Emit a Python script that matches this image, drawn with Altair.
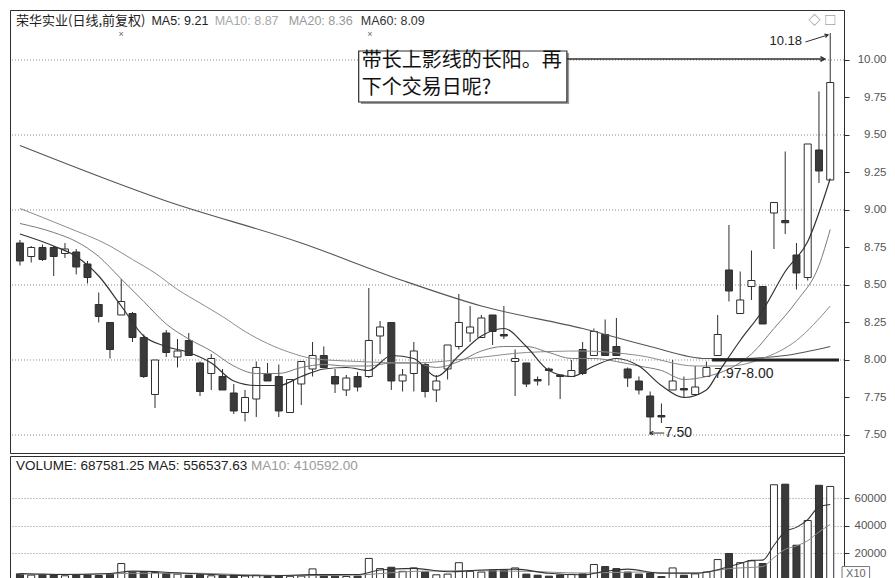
import altair as alt
import pandas as pd

# ---------------- data ----------------
opens = [8.78, 8.69, 8.75, 8.75, 8.71, 8.72, 8.64, 8.37, 8.25, 8.30,
         8.31, 8.15, 7.77, 8.18, 8.02, 8.13, 7.98, 7.91, 7.89, 7.78,
         7.65, 7.74, 7.91, 7.89, 7.65, 7.84, 7.94, 8.03, 7.89, 7.80,
         7.89, 7.89, 8.16, 8.25, 7.86, 7.91, 7.97, 7.80, 7.94, 8.09,
         8.18, 8.15, 8.30, 8.17, 7.99, 7.98, 7.87, 7.94, 7.90, 7.89,
         8.07, 8.03, 8.17, 8.09, 7.94, 7.86, 7.76, 7.63, 7.80, 7.81,
         7.77, 7.89, 8.03, 8.60, 8.31, 8.49, 8.49, 8.98, 8.93, 8.70,
         8.55, 9.40, 9.20]
highs = [8.80, 8.76, 8.77, 8.76, 8.78, 8.74, 8.66, 8.45, 8.25, 8.54,
         8.32, 8.17, 8.00, 8.20, 8.14, 8.18, 7.99, 8.04, 7.94, 7.84,
         7.80, 7.99, 7.98, 7.97, 7.87, 7.99, 8.12, 8.09, 7.94, 7.90,
         7.92, 8.48, 8.26, 8.25, 7.94, 8.12, 7.98, 7.90, 8.10, 8.44,
         8.36, 8.30, 8.30, 8.36, 8.07, 7.98, 7.89, 7.95, 7.90, 8.00,
         8.12, 8.21, 8.27, 8.28, 7.95, 7.89, 7.79, 7.71, 8.00, 7.89,
         7.96, 7.99, 8.30, 8.90, 8.59, 8.73, 8.49, 9.05, 9.39, 8.78,
         9.44, 9.79, 10.18]
lows = [8.63, 8.65, 8.66, 8.56, 8.68, 8.57, 8.51, 8.25, 8.01, 8.30,
        8.12, 7.88, 7.68, 8.02, 7.95, 8.03, 7.76, 7.80, 7.80, 7.64,
        7.59, 7.62, 7.86, 7.62, 7.65, 7.70, 7.89, 7.95, 7.78, 7.76,
        7.79, 7.88, 8.04, 7.80, 7.79, 7.79, 7.75, 7.72, 7.87, 8.07,
        8.12, 8.15, 8.10, 8.14, 7.76, 7.82, 7.83, 7.83, 7.74, 7.89,
        7.90, 8.03, 8.03, 8.03, 7.82, 7.77, 7.50, 7.58, 7.80, 7.75,
        7.77, 7.89, 8.03, 8.39, 8.31, 8.40, 8.24, 8.74, 8.84, 8.47,
        8.53, 9.18, 9.20]
closes = [8.66, 8.75, 8.67, 8.69, 8.74, 8.62, 8.55, 8.29, 8.07, 8.39,
          8.15, 7.89, 8.00, 8.05, 8.06, 8.03, 7.79, 8.01, 7.80, 7.66,
          7.75, 7.95, 7.86, 7.66, 7.87, 7.99, 8.03, 7.95, 7.84, 7.88,
          7.82, 8.13, 8.22, 7.86, 7.90, 8.06, 7.79, 7.86, 8.10, 8.25,
          8.22, 8.28, 8.19, 8.16, 8.01, 7.84, 7.86, 7.93, 7.89, 7.93,
          7.91, 8.19, 8.03, 8.03, 7.88, 7.80, 7.62, 7.62, 7.86, 7.80,
          7.82, 7.95, 8.17, 8.46, 8.40, 8.53, 8.24, 9.05, 8.915, 8.58,
          9.44, 9.26, 9.85]
volumes = [5200, 4300, 4800, 4500, 3800, 4600, 4400, 4000, 5000, 12700,
           6500, 6800, 6200, 5500, 5000, 4200, 4600, 3800, 4000, 4400,
           3600, 4200, 3200, 3800, 3400, 3600, 8800, 3900, 3500, 3300,
           3600, 16400, 9000, 10000, 7000, 9500, 6500, 4500, 5000, 13300,
           7000, 6500, 8000, 8200, 9500, 5000, 4200, 3500, 4400, 4800,
           5200, 12000, 10500, 9000, 6500, 5000, 5800, 3200, 9500, 4200,
           5200, 6500, 15600, 20000, 13300, 14700, 12700, 70000, 70400, 26000,
           44000, 69600, 68758]

ma5_idx = [0, 3, 5, 7, 9, 11, 13, 15, 17, 19, 21, 23, 25, 27, 29, 31, 33, 35, 37, 39,
           41, 43, 45, 47, 49, 51, 53, 55, 57, 59, 61, 62, 64, 66, 68, 70, 72]
ma5_val = [8.84, 8.76, 8.69, 8.56, 8.36, 8.16, 8.09, 8.05, 7.98, 7.86, 7.83, 7.83, 7.89,
           7.94, 7.95, 7.93, 8.03, 8.01, 7.89, 8.03, 8.16, 8.21, 8.09, 7.93, 7.89, 7.96,
           8.01, 7.96, 7.83, 7.75, 7.80, 7.91, 8.13, 8.33, 8.59, 8.79, 9.21]
ma10_idx = [0, 3, 5, 7, 9, 11, 13, 15, 17, 19, 21, 23, 25, 27, 29, 31, 33, 35, 37, 39,
            41, 43, 45, 47, 49, 51, 53, 55, 57, 59, 61, 63, 65, 67, 69, 71, 72]
ma10_val = [8.91, 8.85, 8.79, 8.69, 8.54, 8.39, 8.24, 8.14, 8.06, 7.96, 7.91, 7.91, 7.95,
            7.97, 7.96, 7.96, 7.98, 7.98, 7.95, 7.99, 8.06, 8.09, 8.09, 8.05, 8.01, 8.01,
            7.99, 7.96, 7.93, 7.87, 7.89, 7.94, 8.04, 8.21, 8.39, 8.63, 8.87]
ma20_idx = [0, 4, 8, 10, 12, 14, 16, 18, 20, 22, 24, 26, 30, 35, 40, 45, 50, 55, 60, 63, 66, 69, 72]
ma20_val = [9.01, 8.89, 8.76, 8.67, 8.58, 8.47, 8.38, 8.29, 8.19, 8.11, 8.05, 8.01, 7.99,
            7.98, 8.01, 8.05, 8.06, 8.03, 7.96, 7.96, 8.01, 8.13, 8.36]
ma60_idx = [0, 13, 25, 34, 41, 50, 56, 61, 64, 68, 72]
ma60_val = [9.43, 9.06, 8.78, 8.53, 8.36, 8.21, 8.09, 8.01, 8.01, 8.03, 8.09]

vma5_idx = [0, 4, 8, 10, 14, 18, 22, 26, 30, 32, 35, 38, 41, 44, 47, 50, 52, 54, 57, 60,
            62, 63, 64, 65, 66, 67, 68, 69, 70, 71, 72]
vma5_val = [5500, 4700, 5500, 7200, 6000, 4400, 3800, 4600, 4700, 8000, 9200, 6700, 8000,
            8600, 5600, 4500, 7000, 8600, 5600, 5700, 8200, 10500, 12700, 15000, 15200,
            26000, 36000, 39000, 44600, 54000, 55654]
vma10_idx = [0, 5, 10, 15, 20, 25, 30, 35, 40, 45, 50, 55, 60, 63, 66, 67, 68, 69, 70, 71, 72]
vma10_val = [5000, 4800, 5600, 5700, 4600, 3900, 4400, 7000, 7500, 7000, 5800, 6500, 5600,
             9000, 10500, 17000, 23000, 25500, 29300, 35600, 41059]

price_ticks = [7.50, 7.75, 8.00, 8.25, 8.50, 8.75, 9.00, 9.25, 9.50, 9.75, 10.00]
price_grid = [7.5, 8.0, 8.5, 9.0, 9.5, 10.0]
vol_ticks = [20000, 40000, 60000]

# header texts
hdr_cn = "荣华实业(日线,前复权)"
hdr_ma = ["MA5: 9.21", "MA10: 8.87", "MA20: 8.36", "MA60: 8.09"]
hdr_ma_i = [11.68, 17.3, 23.88, 30.29]
hdr_ma_col = ["#222222", "#a8a8a8", "#999999", "#333333"]
vhdr = ["VOLUME: 687581.25 MA5: 556537.63", "MA10: 410592.00"]
vhdr_i = [-0.35, 20.54]
vhdr_col = ["#222222", "#9a9a9a"]

# annotations (index / price coordinates)
box_lines = ["带长上影线的长阳。再", "下个交易日呢?"]
box_line_p = [9.99, 9.81]
box_x = [30.1, 48.6]
box_p = [10.06, 9.72]
arrow1 = [48.6, 71.5, 10.007]
label_hi = "10.18"
arrow2 = [69.8, 10.12, 71.8, 10.167]
level_line = [61.5, 72.78, 8.00]
label_level = "7.97-8.00"
label_low = "7.50"
arrow3 = [57.25, 56.0, 7.513]

# ---------------- chart ----------------
X_DOM = [-0.44, 72.78]
P_DOM = [7.38, 10.3333]
V_DOM = [0, 90900]
FONT = "Liberation Sans"
CJK = "Noto Sans CJK SC"
DARK = "#2e2e2e"

xs = alt.Scale(domain=X_DOM, nice=False, zero=False)
ps = alt.Scale(domain=P_DOM, nice=False, zero=False)
vs = alt.Scale(domain=V_DOM, nice=False, zero=False)

price_axis = alt.Axis(orient="right", values=price_ticks, format=".2f", labelAlign="right",
                      labelPadding=37, labelBaseline="middle", tickSize=5, tickColor=DARK,
                      domainColor=DARK, labelColor="#555555", labelFont=FONT,
                      labelFontSize=11.5, grid=False, title=None, labelOverlap=False)
vol_axis = alt.Axis(orient="right", values=vol_ticks, format="d", labelAlign="right",
                    labelPadding=37, labelBaseline="middle", tickSize=5, tickColor=DARK,
                    domainColor=DARK, labelColor="#555555", labelFont=FONT, labelFontSize=11.5,
                    grid=True, gridDash=[1, 2], gridColor="#8a8a8a", title=None,
                    labelOverlap=False)


def X(field="i"):
    return alt.X(f"{field}:Q", scale=xs, axis=None, title=None)


def P(field="p"):
    return alt.Y(f"{field}:Q", scale=ps, axis=price_axis, title=None)


def V(field="v"):
    return alt.Y(f"{field}:Q", scale=vs, axis=vol_axis, title=None)


n = len(opens)
df = pd.DataFrame({"i": list(range(n)), "open": opens, "high": highs, "low": lows,
                   "close": closes, "volume": volumes})
df["up"] = df["close"] > df["open"]

grid = alt.Chart(pd.DataFrame({"p": price_grid})).mark_rule(
    color="#8a8a8a", strokeDash=[1, 2], strokeWidth=1).encode(y=P())

wicks = alt.Chart(df).mark_rule(color=DARK, strokeWidth=1).encode(
    x=X(), y=P("low"), y2="high:Q")
bodies = alt.Chart(df).mark_bar(size=7, stroke=DARK, strokeWidth=1).encode(
    x=X(), y=P("open"), y2="close:Q",
    fill=alt.condition("datum.up", alt.value("white"), alt.value("#3a3a3a")))


def ma_layer(idx, vals, color, width):
    d = pd.DataFrame({"i": idx, "p": vals})
    return alt.Chart(d).mark_line(color=color, strokeWidth=width,
                                  interpolate="monotone").encode(x=X(), y=P())


ma60 = ma_layer(ma60_idx, ma60_val, "#555555", 1.1)
ma20 = ma_layer(ma20_idx, ma20_val, "#8c8c8c", 1.0)
ma10 = ma_layer(ma10_idx, ma10_val, "#7a7a7a", 1.0)
ma5 = ma_layer(ma5_idx, ma5_val, "#333333", 1.2)

HDR_P = 10.262
hdr1 = alt.Chart(pd.DataFrame({"t": [hdr_cn], "i": [-0.35], "p": [HDR_P]})).mark_text(
    font=CJK, fontSize=13, align="left", baseline="middle", color="#222222").encode(
    x=X(), y=P(), text="t:N")
hdr2 = alt.Chart(pd.DataFrame({"t": hdr_ma, "i": hdr_ma_i, "p": [HDR_P] * 4, "c": hdr_ma_col})).mark_text(
    font=FONT, fontSize=12.5, align="left", baseline="middle").encode(
    x=X(), y=P(), text="t:N", color=alt.Color("c:N", scale=None))
marks_x = alt.Chart(pd.DataFrame({"t": ["×", "×"], "i": [9.0, 31.1], "p": [10.173, 10.173]})).mark_text(
    font=FONT, fontSize=9, color="#666666").encode(x=X(), y=P(), text="t:N")
icons = alt.Chart(pd.DataFrame({"t": ["◇", "□"], "i": [70.6, 72.0], "p": [10.262, 10.262]})).mark_text(
    font=CJK, fontSize=12, color="#777777").encode(x=X(), y=P(), text="t:N")

shadow = alt.Chart(pd.DataFrame({"x1": [box_x[0] + 0.2], "x2": [box_x[1] + 0.2],
                                 "p1": [box_p[0] - 0.014], "p2": [box_p[1] - 0.014]})).mark_rect(
    fill="#9a9a9a").encode(x=X("x1"), x2="x2:Q", y=P("p1"), y2="p2:Q")
box = alt.Chart(pd.DataFrame({"x1": [box_x[0]], "x2": [box_x[1]],
                              "p1": [box_p[0]], "p2": [box_p[1]]})).mark_rect(
    fill="white", stroke=DARK, strokeWidth=1.2).encode(x=X("x1"), x2="x2:Q", y=P("p1"), y2="p2:Q")
box_txt = alt.Chart(pd.DataFrame({"t": box_lines, "i": [30.38, 30.38], "p": box_line_p})).mark_text(
    font=CJK, fontSize=20, align="left", baseline="middle", color="#111111").encode(
    x=X(), y=P(), text="t:N")

arr1 = alt.Chart(pd.DataFrame({"x1": [arrow1[0]], "x2": [arrow1[1]], "p": [arrow1[2]]})).mark_rule(
    color=DARK, strokeWidth=1.6).encode(x=X("x1"), x2="x2:Q", y=P())
head1 = alt.Chart(pd.DataFrame({"i": [arrow1[1]], "p": [arrow1[2]]})).mark_point(
    shape="M-1,-0.55L0,0L-1,0.55", filled=False, size=70, strokeWidth=1.6, color=DARK, opacity=1).encode(
    x=X(), y=P())

hi_txt = alt.Chart(pd.DataFrame({"t": [label_hi], "i": [69.5], "p": [10.127]})).mark_text(
    font=FONT, fontSize=13, align="right", baseline="middle", color="#222222").encode(
    x=X(), y=P(), text="t:N")
arr2 = alt.Chart(pd.DataFrame({"x1": [arrow2[0]], "p1": [arrow2[1]], "x2": [arrow2[2]], "p2": [arrow2[3]]})).mark_rule(
    color=DARK, strokeWidth=1).encode(x=X("x1"), x2="x2:Q", y=P("p1"), y2="p2:Q")
head2 = alt.Chart(pd.DataFrame({"i": [arrow2[2]], "p": [arrow2[3]]})).mark_point(
    shape="M-1,-0.55L0,0L-1,0.55", filled=False, size=40, strokeWidth=1.2, color=DARK, opacity=1,
    angle=343).encode(x=X(), y=P())

lvl = alt.Chart(pd.DataFrame({"x1": [level_line[0]], "x2": [level_line[1]], "p": [level_line[2]]})).mark_rule(
    color="#222222", strokeWidth=3).encode(x=X("x1"), x2="x2:Q", y=P())
lvl_txt = alt.Chart(pd.DataFrame({"t": [label_level], "i": [61.7], "p": [7.907]})).mark_text(
    font=FONT, fontSize=14, align="left", baseline="middle", color="#222222").encode(
    x=X(), y=P(), text="t:N")
low_txt = alt.Chart(pd.DataFrame({"t": [label_low], "i": [57.3], "p": [7.513]})).mark_text(
    font=FONT, fontSize=14, align="left", baseline="middle", color="#222222").encode(
    x=X(), y=P(), text="t:N")
arr3 = alt.Chart(pd.DataFrame({"x1": [arrow3[0]], "x2": [arrow3[1]], "p": [arrow3[2]]})).mark_rule(
    color=DARK, strokeWidth=1).encode(x=X("x1"), x2="x2:Q", y=P())
head3 = alt.Chart(pd.DataFrame({"i": [arrow3[1]], "p": [arrow3[2]]})).mark_point(
    shape="M1,-0.55L0,0L1,0.55", filled=False, size=40, strokeWidth=1.2, color=DARK, opacity=1).encode(
    x=X(), y=P())

price = alt.layer(grid, wicks, bodies, ma60, ma20, ma10, ma5, hdr1, hdr2, marks_x, icons,
                  shadow, box, box_txt, arr1, head1, hi_txt, arr2, head2, lvl, lvl_txt,
                  low_txt, arr3, head3).properties(width=834, height=443)

# ---------------- volume panel ----------------
vbars = alt.Chart(df).mark_bar(size=7, stroke=DARK, strokeWidth=1).encode(
    x=X(), y=V("volume"),
    fill=alt.condition("datum.up", alt.value("white"), alt.value("#3a3a3a")))
vma5 = alt.Chart(pd.DataFrame({"i": vma5_idx, "v": vma5_val})).mark_line(
    color="#333333", strokeWidth=1.1, interpolate="monotone").encode(x=X(), y=V())
vma10 = alt.Chart(pd.DataFrame({"i": vma10_idx, "v": vma10_val})).mark_line(
    color="#8a8a8a", strokeWidth=1.0, interpolate="monotone").encode(x=X(), y=V())
vtitle = alt.Chart(pd.DataFrame({"t": vhdr, "i": vhdr_i, "v": [83600, 83600], "c": vhdr_col})).mark_text(
    font=FONT, fontSize=13.5, align="left", baseline="middle").encode(
    x=X(), y=V(), text="t:N", color=alt.Color("c:N", scale=None))
x10_box = alt.Chart(pd.DataFrame({"x1": [73.05], "x2": [75.5], "v1": [0], "v2": [10500]})).mark_rect(
    fill="white", stroke="#777777", strokeWidth=1).encode(x=X("x1"), x2="x2:Q", y=V("v1"), y2="v2:Q")
x10_txt = alt.Chart(pd.DataFrame({"t": ["X10"], "i": [74.28], "v": [5000]})).mark_text(
    font=FONT, fontSize=11, align="center", baseline="middle", color="#666666").encode(
    x=X(), y=V(), text="t:N")

volume = alt.layer(vbars, vma10, vma5, vtitle, x10_box, x10_txt).properties(width=834, height=125)

chart = alt.vconcat(price, volume, spacing=1).properties(
    padding={"left": 1, "top": 1, "right": 0, "bottom": 0}, background="white"
).configure_view(stroke=DARK, strokeWidth=1)

chart.save("out.html", embed_options={"renderer": "svg", "actions": False})
